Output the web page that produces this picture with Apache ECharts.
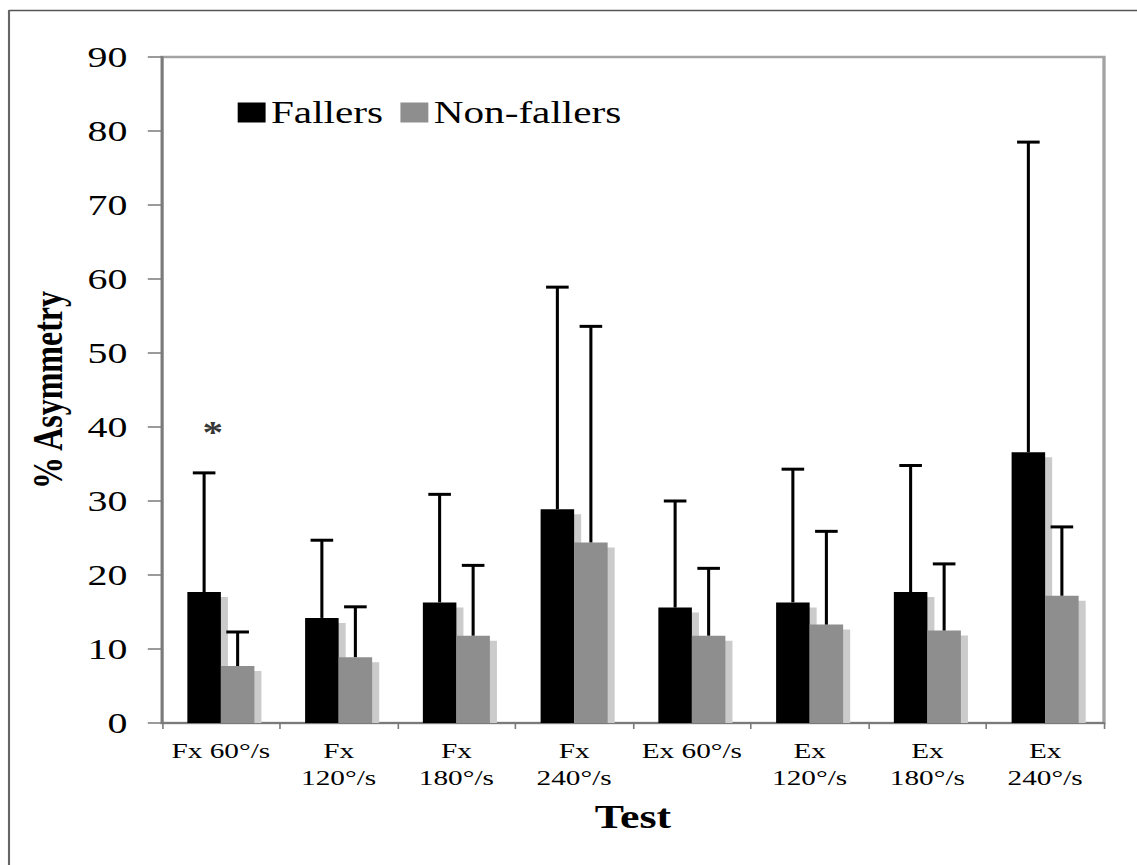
<!DOCTYPE html>
<html>
<head>
<meta charset="utf-8">
<script src="https://cdn.jsdelivr.net/npm/echarts@6/dist/echarts.min.js"></script>
<style>
  html, body { margin: 0; padding: 0; background: #fff; overflow: hidden; }
  #wrap { width: 1137px; height: 865px; overflow: hidden; position: relative; }
  #chart { position: absolute; left: 0; top: 0; height: 865px; transform-origin: 0 0; }
</style>
</head>
<body>
<div id="wrap"><div id="chart"></div></div>
<script>
// ---- data ----
const categories = ['Fx 60°/s', 'Fx\n120°/s', 'Fx\n180°/s', 'Fx\n240°/s', 'Ex 60°/s', 'Ex\n120°/s', 'Ex\n180°/s', 'Ex\n240°/s'];
const seriesNames = ['Fallers', 'Non-fallers'];
const fallersMean = [17.7, 14.2, 16.3, 28.9, 15.6, 16.3, 17.7, 36.6];
const fallersSD   = [16.1, 10.5, 14.6, 30.0, 14.4, 18.0, 17.1, 41.9];
const nonFallersMean = [7.7, 8.9, 11.8, 24.4, 11.8, 13.3, 12.5, 17.2];
const nonFallersSD   = [4.6, 6.8, 9.5, 29.2, 9.1, 12.6, 9.0, 9.3];
const yTicks = { min: 0, max: 90, interval: 10 };
const significance = [{ category: 0, value: 39.2, mark: '*' }];
const yAxisTitle = '% Asymmetry';
const xAxisTitle = 'Test';

// ---- layout / style ----
const S = 1.33;                 // horizontal stretch of the original figure
const W = 1137 / S;
const BAR_W = 25.2;
const SH_X = 5.3, SH_Y = 5;
const CAP = 17;
const FONT = '"Liberation Serif", "Times New Roman", serif';

const el = document.getElementById('chart');
el.style.width = W + 'px';
el.style.transform = 'scaleX(' + S + ')';

const chart = echarts.init(el, null, { renderer: 'svg', width: W, height: 865 });

function shadowRender(side) {
  return function (params, api) {
    const i = api.value(0), m = api.value(1);
    const top = api.coord([i, m]);
    const base = api.coord([i, 0]);
    const x = top[0] + (side < 0 ? -BAR_W : 0) + SH_X;
    const y = top[1] + SH_Y;
    return { type: 'rect', shape: { x: x, y: y, width: BAR_W, height: Math.max(0, base[1] - y) },
             style: { fill: '#cbcbcb' } };
  };
}
function errRender(side) {
  return function (params, api) {
    const i = api.value(0), m = api.value(1), sd = api.value(2);
    const b = api.coord([i, m]);
    const t = api.coord([i, m + sd]);
    const x = b[0] + side * BAR_W / 2;
    return { type: 'group', children: [
      { type: 'line', shape: { x1: x, y1: b[1], x2: x, y2: t[1] }, style: { stroke: '#000', lineWidth: 2.3 } },
      { type: 'line', shape: { x1: x - CAP / 2, y1: t[1], x2: x + CAP / 2, y2: t[1] }, style: { stroke: '#000', lineWidth: 3 } }
    ]};
  };
}

const option = {
  animation: false,
  backgroundColor: '#fff',
  textStyle: { fontFamily: FONT },
  graphic: [
    { type: 'line', shape: { x1: 9 / S, y1: 10.5, x2: W, y2: 10.5 }, style: { stroke: '#555', lineWidth: 1.5 } },
    { type: 'line', shape: { x1: 9 / S, y1: 10, x2: 9 / S, y2: 865 }, style: { stroke: '#666', lineWidth: 1.6 } }
  ],
  legend: {
    data: seriesNames,
    left: 173.7, top: 92,
    icon: 'rect', itemWidth: 21, itemHeight: 20, itemGap: 13,
    textStyle: { fontFamily: FONT, fontSize: 31, color: '#000', padding: [0, 0, 0, -1] },
    selectedMode: false
  },
  grid: {
    left: 162 / S, right: (1137 - 1104) / S, top: 57, bottom: 142,
    show: true, borderColor: '#a3a3a3', borderWidth: 2.5, backgroundColor: 'transparent'
  },
  xAxis: {
    type: 'category', data: categories,
    name: xAxisTitle, nameLocation: 'middle', nameGap: 77,
    nameTextStyle: { fontFamily: FONT, fontSize: 33, fontWeight: 'bold', color: '#000' },
    axisLine: { lineStyle: { color: '#7a7a7a', width: 2 } },
    axisTick: { show: true, length: 6, lineStyle: { color: '#7a7a7a', width: 1.2 } },
    axisLabel: { fontFamily: FONT, fontSize: 22, lineHeight: 27, color: '#000', margin: 14, interval: 0 },
    splitLine: { show: false }
  },
  yAxis: {
    type: 'value', min: yTicks.min, max: yTicks.max, interval: yTicks.interval,
    name: yAxisTitle, nameLocation: 'middle', nameGap: 70,
    nameTextStyle: { fontFamily: FONT, fontSize: 32, fontWeight: 'bold', color: '#000' },
    axisLine: { show: true, lineStyle: { color: '#7a7a7a', width: 1.8 } },
    axisTick: { show: true, length: 10.7, lineStyle: { color: '#7a7a7a', width: 1.5 } },
    axisLabel: { fontFamily: FONT, fontSize: 30, color: '#000', margin: 26 },
    splitLine: { show: false }
  },
  series: [
    { type: 'custom', name: 'shadowF', z: 1, renderItem: shadowRender(-1),
      data: categories.map((c, i) => [i, fallersMean[i]]), silent: true },
    { type: 'custom', name: 'shadowN', z: 1, renderItem: shadowRender(1),
      data: categories.map((c, i) => [i, nonFallersMean[i]]), silent: true },
    { type: 'bar', name: seriesNames[0], data: fallersMean, barWidth: BAR_W, barGap: '0%', z: 2,
      itemStyle: { color: '#000' } },
    { type: 'bar', name: seriesNames[1], data: nonFallersMean, barWidth: BAR_W, barGap: '0%', z: 2,
      itemStyle: { color: '#8e8e8e' } },
    { type: 'custom', name: 'errF', z: 3, renderItem: errRender(-1),
      data: categories.map((c, i) => [i, fallersMean[i], fallersSD[i]]), silent: true },
    { type: 'custom', name: 'errN', z: 3, renderItem: errRender(1),
      data: categories.map((c, i) => [i, nonFallersMean[i], nonFallersSD[i]]), silent: true },
    { type: 'scatter', name: 'sig', z: 4, symbolSize: 0, silent: true,
      data: significance.map(s => [s.category, s.value]),
      label: { show: true, position: 'inside', offset: [-6, 0], formatter: (p) => significance[p.dataIndex].mark,
               fontFamily: FONT, fontSize: 31, fontWeight: 'bold', color: '#000' } }
  ]
};
chart.setOption(option);
</script>
</body>
</html>
